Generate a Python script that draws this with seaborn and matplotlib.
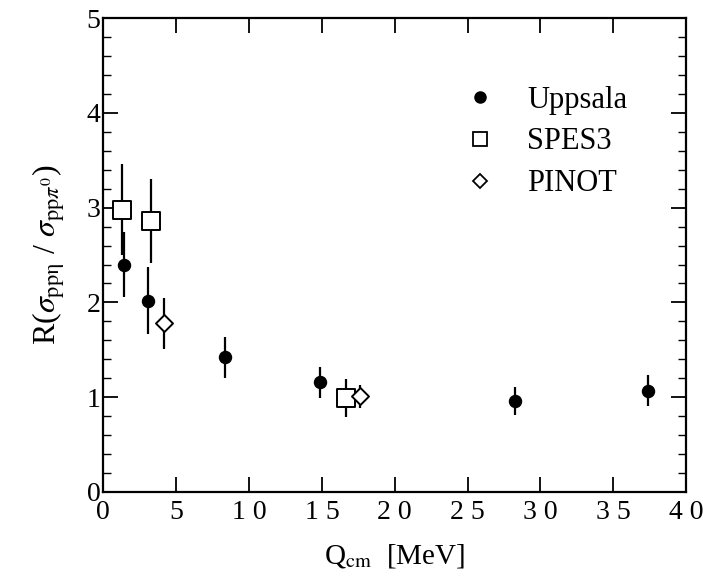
import numpy as np
import pandas as pd
import matplotlib
matplotlib.use("Agg")
import matplotlib.pyplot as plt
import seaborn as sns
from matplotlib.lines import Line2D

# Data
uppsala_q = [1.44, 3.05, 8.36, 14.85, 28.27, 37.39]
uppsala_r = [2.40, 2.02, 1.42, 1.155, 0.96, 1.07]
uppsala_err = [0.34, 0.35, 0.22, 0.16, 0.15, 0.16]

spes3_q = [1.26, 3.28, 16.68]
spes3_r = [2.98, 2.86, 0.99]
spes3_err = [0.48, 0.44, 0.20]

pinot_q = [4.15, 17.6]
pinot_r = [1.78, 1.01]
pinot_err = [0.27, 0.12]

x_ticks = [0, 5, 10, 15, 20, 25, 30, 35, 40]
y_ticks = [0, 1, 2, 3, 4, 5]

sns.set_style("ticks", {"axes.edgecolor": "black", "xtick.color": "black",
                        "ytick.color": "black", "text.color": "black",
                        "axes.labelcolor": "black"})
plt.rcParams['font.family'] = ['Liberation Serif', 'DejaVu Serif']
plt.rcParams['mathtext.fontset'] = 'stix'

df = pd.concat([
    pd.DataFrame({"Q": uppsala_q, "R": uppsala_r, "err": uppsala_err, "exp": "Uppsala"}),
    pd.DataFrame({"Q": spes3_q, "R": spes3_r, "err": spes3_err, "exp": "SPES3"}),
    pd.DataFrame({"Q": pinot_q, "R": pinot_r, "err": pinot_err, "exp": "PINOT"}),
], ignore_index=True)

fig = plt.figure(figsize=(7.03, 5.87), dpi=100)
ax = fig.add_axes([0.147, 0.162, 0.829, 0.807])

# error bars
ax.errorbar(df["Q"], df["R"], yerr=df["err"], fmt="none", ecolor="black",
            elinewidth=1.6, capsize=0, zorder=1)

styles = {
    "Uppsala": dict(marker="o", s=75, facecolor="black", edgecolor="black", linewidth=1.0),
    "SPES3": dict(marker="s", s=150, facecolor="white", edgecolor="black", linewidth=1.4),
    "PINOT": dict(marker="D", s=75, facecolor="white", edgecolor="black", linewidth=1.4),
}
for name, st in styles.items():
    sub = df[df["exp"] == name]
    sns.scatterplot(data=sub, x="Q", y="R", ax=ax, zorder=3, legend=False, **st)

ax.set_xlim(0, 40)
ax.set_ylim(0, 5)
ax.set_xticks(x_ticks)
ax.set_xticklabels([" ".join(str(t)) for t in x_ticks])
ax.set_yticks(y_ticks)
ax.yaxis.set_minor_locator(matplotlib.ticker.MultipleLocator(0.2))
ax.tick_params(axis="both", which="major", direction="in", length=11, width=1.3,
               top=True, right=True, labelsize=20, colors="black")
ax.tick_params(axis="x", which="major", pad=6)
ax.tick_params(axis="y", which="major", pad=2)
ax.tick_params(axis="both", which="minor", direction="in", length=6, width=1.0,
               top=False, right=True, left=True, colors="black")
for sp in ax.spines.values():
    sp.set_linewidth(1.6)
    sp.set_visible(True)
    sp.set_color("black")

ax.set_xlabel(r"Q$_{\rm cm}$  [MeV]", fontsize=21, labelpad=12, color="black")
ax.set_ylabel(r"R($\sigma_{\rm pp\eta}$ / $\sigma_{{\rm pp}\pi^0}$)", fontsize=23,
              labelpad=14, color="black")

handles = [
    Line2D([], [], marker="o", linestyle="none", markerfacecolor="black",
           markeredgecolor="black", markersize=8),
    Line2D([], [], marker="s", linestyle="none", markerfacecolor="white",
           markeredgecolor="black", markersize=10, markeredgewidth=1.3),
    Line2D([], [], marker="D", linestyle="none", markerfacecolor="white",
           markeredgecolor="black", markersize=7, markeredgewidth=1.3),
]
leg = ax.legend(handles, ["Uppsala", "SPES3", "PINOT"], loc="upper left",
                bbox_to_anchor=(0.58, 0.89), frameon=False, fontsize=22,
                handletextpad=0.8, labelspacing=0.42, borderpad=0,
                handlelength=1.5)
for t in leg.get_texts():
    t.set_color("black")

fig.savefig("out.png", dpi=100)
